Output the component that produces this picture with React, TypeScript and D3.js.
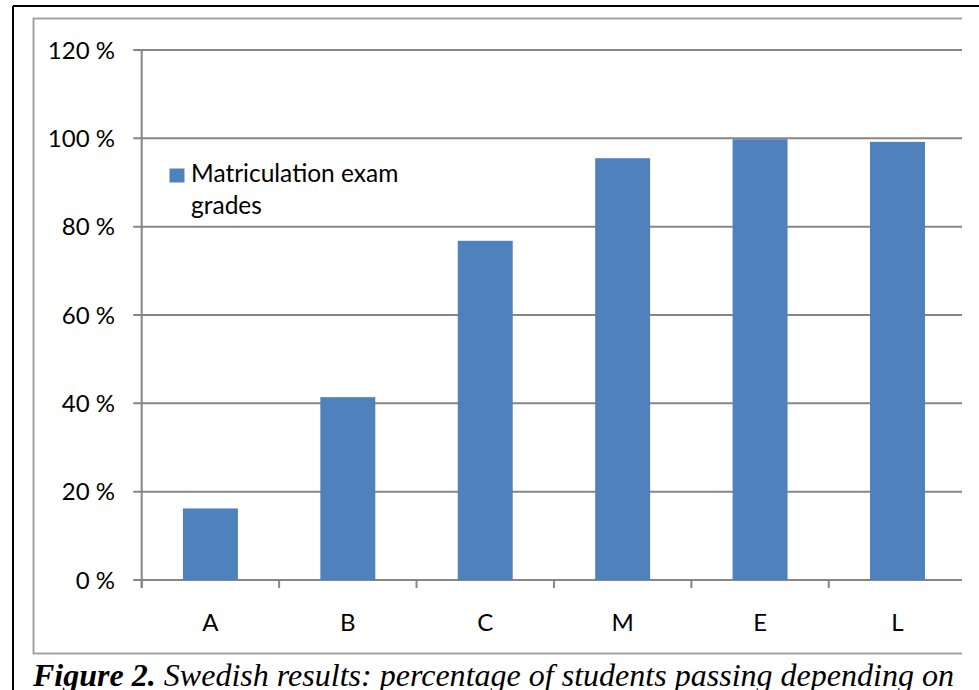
import React from "react";
import * as d3 from "d3";

const categories = ["A", "B", "C", "M", "E", "L"];
const passRates = [0.162, 0.414, 0.768, 0.955, 0.998, 0.992];
const yTicks = [0, 0.2, 0.4, 0.6, 0.8, 1.0, 1.2];
const seriesName = ["Matriculation exam", "grades"];

const W = 979;
const H = 690;
const plotLeft = 141.7;
const plotRight = 966.2;
const plotTop = 50;
const plotBottom = 580;
const clipRight = 962;
const barColor = "#4F81BD";
const gridColor = "#868686";
const labelFont = "Lato, 'Open Sans', sans-serif";

export default function App() {
  const x = d3
    .scaleBand<string>()
    .domain(categories)
    .range([plotLeft, plotRight])
    .paddingInner(0.6)
    .paddingOuter(0.3);
  const y = d3.scaleLinear().domain([0, 1.2]).range([plotBottom, plotTop]);
  const step = x.step();
  const boundaries = d3.range(categories.length + 1).map((i) => plotLeft + i * step);

  return (
    <svg
      width={W}
      height={H}
      style={{ position: "absolute", left: 0, top: 0, background: "#fff" }}
    >
      <defs>
        <clipPath id="plotclip">
          <rect x={0} y={0} width={clipRight} height={H} />
        </clipPath>
      </defs>
      <rect x={0} y={0} width={W} height={H} fill="#fff" />
      {/* outer black frame */}
      <line x1={13} y1={6} x2={W} y2={6} stroke="#000" strokeWidth={2} />
      <line x1={13} y1={6} x2={13} y2={H} stroke="#000" strokeWidth={2} />
      {/* inner chart border */}
      <g clipPath="url(#plotclip)">
        <rect x={33.5} y={18.5} width={980} height={635} fill="none" stroke="#9a9a9a" strokeWidth={1.8} />
        {/* gridlines */}
        {yTicks.map((t) => (
          <line key={"g" + t} x1={plotLeft - 8.5} x2={plotRight} y1={y(t)} y2={y(t)} stroke={gridColor} strokeWidth={2} />
        ))}
        {/* y axis */}
        <line x1={plotLeft} x2={plotLeft} y1={plotTop} y2={plotBottom + 8} stroke={gridColor} strokeWidth={2} />
        {/* category ticks */}
        {boundaries.map((bx, i) => (
          <line key={"ct" + i} x1={bx} x2={bx} y1={plotBottom} y2={plotBottom + 8} stroke={gridColor} strokeWidth={2} />
        ))}
        {/* bars */}
        {categories.map((c, i) => (
          <rect
            key={c}
            x={x(c)}
            y={y(passRates[i])}
            width={x.bandwidth()}
            height={y(0) - y(passRates[i])}
            fill={barColor}
          />
        ))}
      </g>
      {/* y tick labels */}
      {yTicks.map((t) => (
        <text
          key={"yl" + t}
          x={115}
          y={y(t)}
          dy="0.36em"
          textAnchor="end"
          fontFamily={labelFont}
          fontSize={24}
          fill="#000"
        >
          {`${Math.round(t * 100)} %`}
        </text>
      ))}
      {/* x labels */}
      {categories.map((c) => (
        <text
          key={"xl" + c}
          x={(x(c) as number) + x.bandwidth() / 2}
          y={631}
          textAnchor="middle"
          fontFamily={labelFont}
          fontSize={24}
          fill="#000"
        >
          {c}
        </text>
      ))}
      {/* legend */}
      <rect x={169.5} y={168.5} width={15} height={14} fill={barColor} />
      <text x={191} y={182} fontFamily={labelFont} fontSize={24.5} fill="#000">
        {seriesName[0]}
      </text>
      <text x={191} y={214} fontFamily={labelFont} fontSize={24.5} fill="#000">
        {seriesName[1]}
      </text>
      {/* caption */}
      <text
        x={33}
        y={686}
        fontFamily="'Liberation Serif', 'Times New Roman', serif"
        fontSize={32}
        fontStyle="italic"
        fill="#000"
        textLength={921}
        lengthAdjust="spacing"
      >
        <tspan fontWeight="bold">Figure 2.</tspan>
        <tspan> Swedish results: percentage of students passing depending on</tspan>
      </text>
    </svg>
  );
}
